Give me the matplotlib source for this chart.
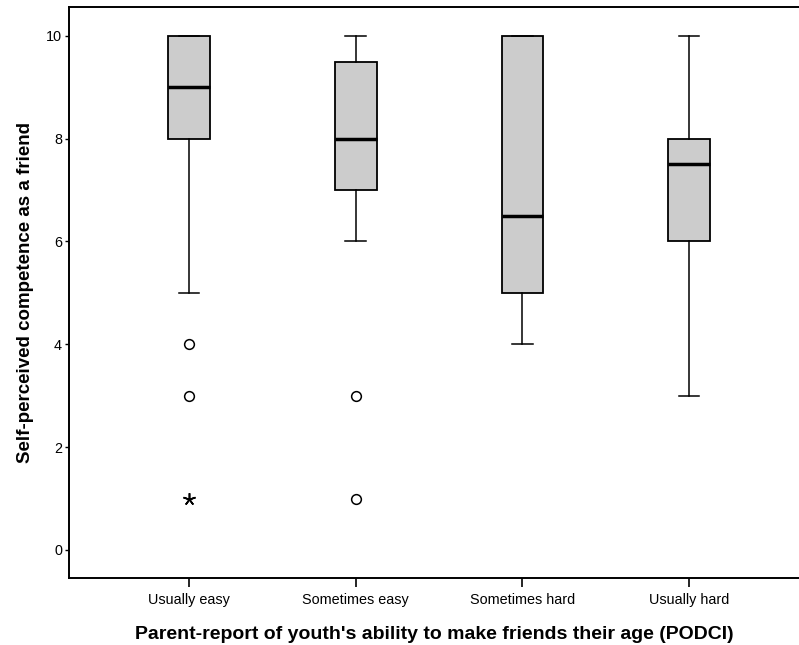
import matplotlib
matplotlib.use('Agg')
import matplotlib.pyplot as plt

categories = ['Usually easy', 'Sometimes easy', 'Sometimes hard', 'Usually hard']
whisker_low = [5, 6, 4, 3]
q1 = [8, 7, 5, 6]
median = [9, 8, 6.5, 7.5]
q3 = [10, 9.5, 10, 8]
whisker_high = [10, 10, 10, 10]
outliers_circle = [[4, 3], [3, 1], [], []]
outliers_star = [[1], [], [], []]

plt.rcParams['font.family'] = ['Liberation Sans', 'DejaVu Sans']

fig = plt.figure(figsize=(7.99, 6.45), dpi=100)
ax = fig.add_axes([69 / 799, 67 / 645, 730 / 799, 571 / 645])

stats = []
for i in range(len(categories)):
    stats.append({'whislo': whisker_low[i], 'q1': q1[i], 'med': median[i],
                  'q3': q3[i], 'whishi': whisker_high[i], 'fliers': []})

positions = list(range(len(categories)))
ax.bxp(stats, positions=positions, widths=0.25, capwidths=0.125, patch_artist=True,
       showfliers=False,
       boxprops=dict(facecolor='#cccccc', edgecolor='black', linewidth=1.3),
       medianprops=dict(color='black', linewidth=2.5),
       whiskerprops=dict(color='black', linewidth=1.1),
       capprops=dict(color='black', linewidth=1.1))

# Выбросы: кружки и звёздочки (экстремальные)
for i in positions:
    if outliers_circle[i]:
        ax.plot([i] * len(outliers_circle[i]), outliers_circle[i], 'o', ms=7,
                mfc='white', mec='black', mew=1.1)
    if outliers_star[i]:
        ax.plot([i] * len(outliers_star[i]), outliers_star[i], marker=(5, 2, 0), ls='',
                ms=9, mec='black', mew=1.2)

ax.set_xlim(-0.72, 3.66)
ax.set_ylim(-0.545, 10.56)
ax.set_xticks(positions)
ax.set_xticklabels(categories, fontsize=10.4)
ax.set_yticks([0, 2, 4, 6, 8, 10])
ax.tick_params(axis='y', labelsize=10.4, length=3, width=1, pad=2)
ax.tick_params(axis='x', length=6.5, width=1.2, pad=4)
ax.spines['right'].set_visible(False)
for s in ['left', 'bottom', 'top']:
    ax.spines[s].set_linewidth(1.4)

ax.set_xlabel("Parent-report of youth's ability to make friends their age (PODCI)",
              fontsize=14, fontweight='bold', labelpad=14)
ax.set_ylabel('Self-perceived competence as a friend', fontsize=13.5,
              fontweight='bold', labelpad=9)

plt.savefig('out.png', dpi=100)
